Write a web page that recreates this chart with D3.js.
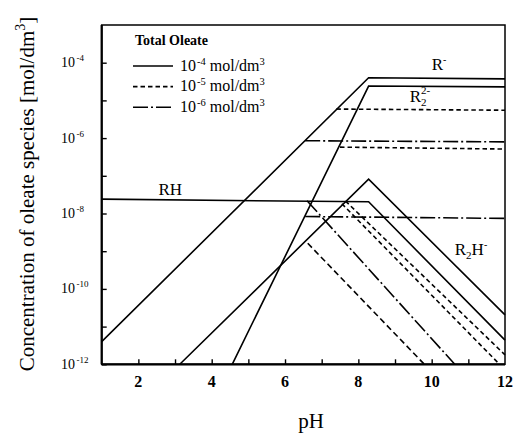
<!DOCTYPE html>
<html><head><meta charset="utf-8">
<script src="https://cdn.jsdelivr.net/npm/d3@7"></script>
<style>
html,body{margin:0;padding:0;background:#fff;}
</style></head>
<body><svg id="c" width="526" height="435" font-family="'Liberation Serif','DejaVu Serif','Times New Roman',serif"></svg>
<script>
// ---- data (pH, log10 concentration) ----
const xTickValues = [2,3,4,5,6,7,8,9,10,11];
const xTickLabels = [2,4,6,8,10,12];
const yTickExps = [-4,-5,-6,-7,-8,-9,-10,-11,-12];
const yLabelExps = [-4,-6,-8,-10,-12];
const legendTotals = [-4,-5,-6];

// total oleate 1e-4 (solid)
const Rm_4  = [[1,-11.4],[8.28,-4.40],[12,-4.43]];
const R2_4  = [[4.56,-12],[8.28,-4.62],[12,-4.64]];
const RH_4  = [[1,-7.62],[8.28,-7.69],[12,-11.36]];
const R2H_4 = [[3.13,-12],[8.28,-7.09],[12,-10.69]];
// total oleate 1e-5 (dashed)
const Rm_5  = [[7.40,-5.23],[12,-5.26]];
const R2_5  = [[7.50,-6.24],[12,-6.29]];
const RH_5  = [[7.65,-7.67],[12,-11.75]];
const R2H_5 = [[7.55,-7.74],[11.85,-12]];
// total oleate 1e-6 (dash-dot)
const Rm_6  = [[6.55,-6.07],[12,-6.10]];
const R2_6  = [[6.55,-8.08],[12,-8.13]];
const RH_6  = [[6.60,-7.66],[10.63,-12]];
const R2H_6 = [[6.62,-8.79],[9.80,-12]];

const series = [
  {pts:Rm_4, style:"solid"},{pts:R2_4, style:"solid"},{pts:RH_4, style:"solid"},{pts:R2H_4, style:"solid"},
  {pts:Rm_5, style:"dash"},{pts:R2_5, style:"dash"},{pts:RH_5, style:"dash"},{pts:R2H_5, style:"dash"},
  {pts:Rm_6, style:"dashdot"},{pts:R2_6, style:"dashdot"},{pts:RH_6, style:"dashdot"},{pts:R2H_6, style:"dash2"}
];

// species labels anchored in data coords
const speciesLabels = [
  {base:"R", sub:null, sup:"-", ph:10.0, lg:-4.2},
  {base:"R", sub:"2", sup:"2-", ph:9.4, lg:-5.03},
  {base:"RH", sub:null, sup:null, ph:2.55, lg:-7.5},
  {base:"R", sub:"2", sup:"-", hAfter:true, ph:10.63, lg:-9.1}
];

const dashes = {solid:null, dash:"4.5,3", dashdot:"15,3,2,3", dash2:"6,3.5"};

// ---- chart ----
const svg = d3.select("#c");
const L=101.7, R=505, T=25, B=364.3;
const x = d3.scaleLinear().domain([1,12]).range([L,R]);
const y = d3.scaleLog().domain([1e-12,1e-3]).range([B,T]);

const line = d3.line().x(d=>x(d[0])).y(d=>y(Math.pow(10,d[1])));

svg.append("g").selectAll("path").data(series).join("path")
  .attr("d",d=>line(d.pts)).attr("fill","none").attr("stroke","#000")
  .attr("stroke-width",1.6)
  .attr("stroke-dasharray",d=>dashes[d.style]);

// frame
svg.append("rect").attr("x",L).attr("y",T).attr("width",R-L).attr("height",B-T)
  .attr("fill","none").attr("stroke","#000").attr("stroke-width",1.5);
svg.append("line").attr("x1",L).attr("x2",L).attr("y1",T).attr("y2",B).attr("stroke","#000").attr("stroke-width",2.2);
svg.append("line").attr("x1",L).attr("x2",R).attr("y1",B).attr("y2",B).attr("stroke","#000").attr("stroke-width",2.2);

// ticks
const gy = svg.append("g").attr("transform",`translate(${L},0)`)
  .call(d3.axisLeft(y).tickValues(yTickExps.map(e=>Math.pow(10,e))).tickSize(-5).tickFormat(""));
gy.select(".domain").remove();
gy.selectAll("line").attr("stroke-width",1.4);
const gx = svg.append("g").attr("transform",`translate(0,${B})`)
  .call(d3.axisBottom(x).tickValues(xTickValues).tickSize(-5).tickFormat(""));
gx.select(".domain").remove();
gx.selectAll("line").attr("stroke-width",1.4);

const FF = "'Liberation Serif','DejaVu Serif','Times New Roman',serif";

// y labels
yLabelExps.forEach(e=>{
  const t = svg.append("text").attr("font-family",FF).attr("x",61).attr("y",y(Math.pow(10,e))+4.5).attr("font-size",14);
  t.append("tspan").text("10");
  t.append("tspan").attr("font-size",9).attr("dy",-6).attr("dx",1.5).text(String(e));
});
// x labels
xTickLabels.forEach(v=>{
  svg.append("text").attr("font-family",FF).attr("x",x(v)).attr("y",387).attr("text-anchor","middle")
    .attr("font-size",16).attr("font-weight","bold").text(v);
});
svg.append("text").attr("font-family",FF).attr("x",311).attr("y",428).attr("text-anchor","middle").attr("font-size",21).text("pH");

// y title
const yt = svg.append("text").attr("font-family",FF).attr("transform","translate(34,194) rotate(-90)")
  .attr("text-anchor","middle").attr("font-size",21);
yt.append("tspan").text("Concentration of oleate species  [mol/dm");
yt.append("tspan").attr("font-size",14).attr("dy",-9).text("3");
yt.append("tspan").attr("dy",9).text("]");

// legend
svg.append("text").attr("font-family",FF).attr("x",135).attr("y",45).attr("font-size",14).attr("font-weight","bold").text("Total Oleate");
legendTotals.forEach((e,i)=>{
  const ly = 66 + i*20.6;
  const st = ["solid","dash","dashdot"][i];
  svg.append("line").attr("x1",133).attr("x2",173).attr("y1",ly).attr("y2",ly)
    .attr("stroke","#000").attr("stroke-width",1.6).attr("stroke-dasharray",dashes[st]);
  const t = svg.append("text").attr("font-family",FF).attr("x",180).attr("y",ly+4.5).attr("font-size",16);
  t.append("tspan").text("10");
  t.append("tspan").attr("font-size",10.5).attr("dy",-6).attr("dx",1).text(String(e));
  t.append("tspan").attr("dy",6).text(" mol/dm");
  t.append("tspan").attr("font-size",10.5).attr("dy",-6).text("3");
});

// species labels
speciesLabels.forEach(s=>{
  const t = svg.append("text").attr("font-family",FF).attr("x",x(s.ph)).attr("y",y(Math.pow(10,s.lg))).attr("font-size",17);
  t.append("tspan").text(s.base);
  if(s.hAfter){
    t.append("tspan").attr("font-size",11).attr("dy",4).text(s.sub);
    t.append("tspan").attr("dy",-4).text("H");
    t.append("tspan").attr("font-size",10).attr("dy",-7).text(s.sup);
  } else if(s.sub){
    t.append("tspan").attr("font-size",11).attr("dy",4).text(s.sub);
    t.append("tspan").attr("font-size",11).attr("dx",-5.5).attr("dy",-12).text(s.sup);
  } else if(s.sup){
    t.append("tspan").attr("font-size",10).attr("dy",-7).text(s.sup);
  }
});
</script></body></html>
